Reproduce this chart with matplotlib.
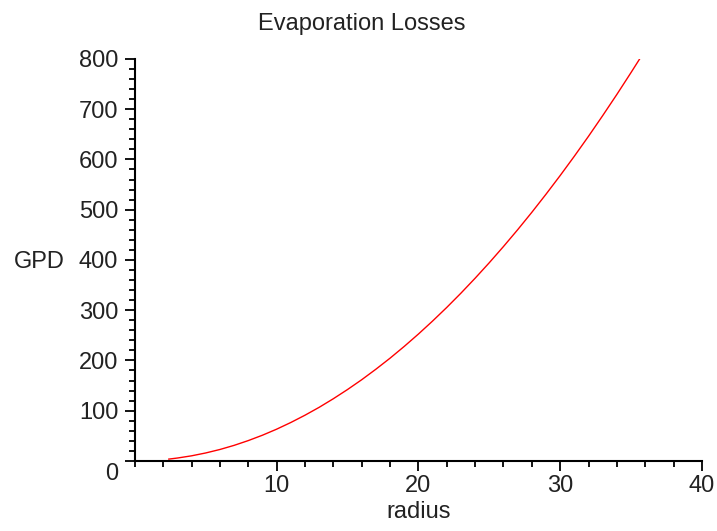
import matplotlib
matplotlib.use("Agg")
import matplotlib.pyplot as plt
from matplotlib.ticker import MultipleLocator, FixedLocator
import matplotlib.transforms as mtransforms

plt.rcParams['font.family'] = ['Liberation Sans', 'DejaVu Sans']

# evaporation losses in gallons per day against pool radius
radius = [2.4, 3, 4, 5, 6, 7, 8, 9, 10, 11, 12, 13, 14, 15, 16, 17, 18, 19,
          20, 21, 22, 23, 24, 25, 26, 27, 28, 29, 30, 31, 32, 33, 34, 35, 35.6]
gpd = [3.6, 5.7, 10.1, 15.8, 22.7, 30.9, 40.4, 51.1, 63.1, 76.4, 90.9, 106.6,
       123.7, 142.0, 161.5, 182.4, 204.4, 227.8, 252.4, 278.3, 305.4, 333.8,
       363.5, 394.4, 426.6, 460.0, 494.7, 530.7, 567.9, 606.4, 646.1, 687.2,
       729.4, 773.0, 799.7]

x_ticks = [10, 20, 30, 40]
y_ticks = [0, 100, 200, 300, 400, 500, 600, 700, 800]

fig = plt.figure(figsize=(7.17, 5.31), dpi=100)
ax = fig.add_axes([0.188, 0.132, 0.791, 0.757])

ax.plot(radius, gpd, color='#ff0000', linewidth=1.0)

ax.set_xlim(0, 40)
ax.set_ylim(0, 800)

for side in ('top', 'right'):
    ax.spines[side].set_visible(False)
for side in ('left', 'bottom'):
    ax.spines[side].set_linewidth(1.5)
    ax.spines[side].set_color('black')

ax.xaxis.set_major_locator(FixedLocator(x_ticks))
ax.xaxis.set_minor_locator(MultipleLocator(2))
ax.yaxis.set_major_locator(FixedLocator(y_ticks))
ax.yaxis.set_minor_locator(MultipleLocator(20))

ax.tick_params(axis='both', which='major', length=7, width=1.3, labelsize=17,
               colors='black', labelcolor='#222222')
ax.tick_params(axis='both', which='minor', length=4, width=1.3, colors='black')
ax.tick_params(axis='x', which='major', pad=3)
ax.tick_params(axis='y', which='major', pad=5)

# push the "0" on the vertical axis down a little, clear of the corner
fig.canvas.draw()
for lbl in ax.get_yticklabels():
    if lbl.get_text() == '0':
        lbl.set_transform(lbl.get_transform() +
                          mtransforms.ScaledTranslation(0, -11 / 100, fig.dpi_scale_trans))

ax.set_xlabel('radius', fontsize=17, color='#222222', labelpad=3)
ax.set_ylabel('GPD', fontsize=17, color='#222222', rotation=0, va='center')
ax.yaxis.set_label_coords(-0.168, 0.495)

fig.text(0.505, 0.955, 'Evaporation Losses', fontsize=17, color='#222222',
         ha='center', va='center')

fig.savefig('out.png', dpi=100, facecolor='white')
